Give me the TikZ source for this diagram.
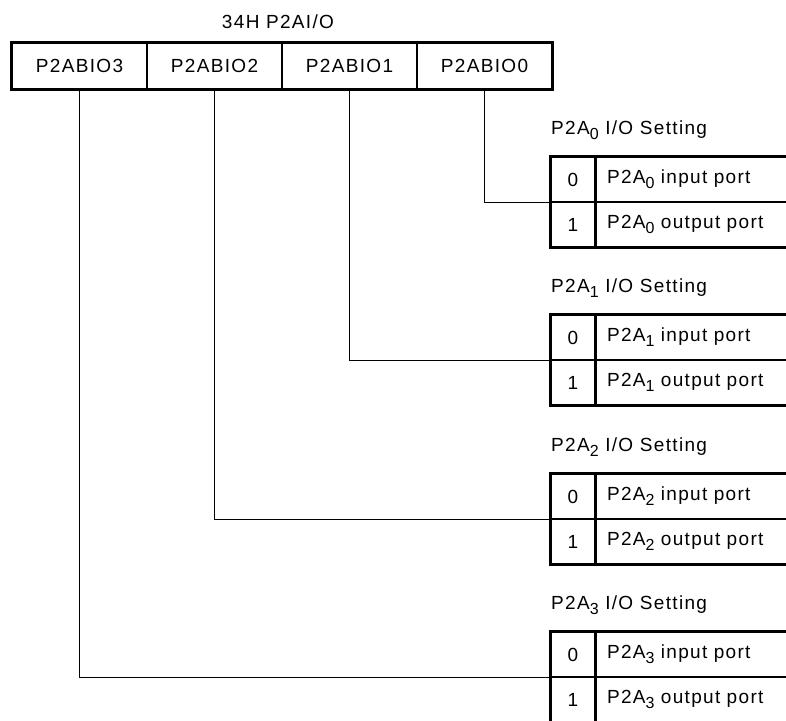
\documentclass[tikz,border=0pt]{standalone}
\usepackage{fontspec}
\setmainfont{Liberation Sans}[LetterSpace=7]
\usetikzlibrary{positioning,calc}
\newcommand{\lowdig}[1]{\raisebox{-0.5ex}{\fontsize{16}{16}\selectfont #1}}
\tikzset{
  regcell/.style={draw,line width=1.1pt,minimum width=135pt,minimum height=46pt,
    inner sep=0pt,font=\fontsize{19}{21}\selectfont},
  regframe/.style={line width=3pt},
  numcell/.style={draw,line width=1.1pt,minimum width=44pt,minimum height=45pt,
    inner sep=0pt,font=\fontsize{19}{21}\selectfont},
  desccell/.style={draw,line width=1.1pt,minimum height=45pt,anchor=west,
    text width=200pt,inner xsep=11pt,inner ysep=0pt,align=left,
    font=\fontsize{19}{21}\selectfont},
  tabframe/.style={line width=3pt},
  tablbl/.style={anchor=west,inner sep=0pt,font=\fontsize{19}{21}\selectfont},
  conn/.style={line width=1.6pt},
}
\begin{document}
\begin{tikzpicture}[x=1pt,y=-1pt]
  \useasboundingbox (0,0) rectangle (786,720);
  % register
  \node[font=\fontsize{19}{21}\selectfont] (title) at (278,22) {34H P2AI/O};
  \node[regcell] (b3) at (79.5,66) {P2ABIO3};
  \node[regcell] (b2) at (214.5,66) {P2ABIO2};
  \node[regcell] (b1) at (349.5,66) {P2ABIO1};
  \node[regcell] (b0) at (484.5,66) {P2ABIO0};
  \draw[regframe] (b3.north west) rectangle (b0.south east);
  % settings tables
  \foreach \i/\ty in {0/157,1/315,2/474,3/632}{
    \node[tablbl] (l\i) at (551,\ty-27) {P2A\lowdig{\i} I/O Setting};
    \node[numcell] (n\i0) at (573,\ty+22.5) {0};
    \node[numcell] (n\i1) at (573,\ty+67.5) {1};
    \node[desccell] (d\i0) at (n\i0.east) {P2A\lowdig{\i} input port};
    \node[desccell] (d\i1) at (n\i1.east) {P2A\lowdig{\i} output port};
    \draw[tabframe] (d\i0.north east) -- (n\i0.north west) -- (n\i1.south west)
      -- (d\i1.south east);
    \draw[conn] (b\i.south) |- (n\i0.south west);
  }
\end{tikzpicture}
\end{document}
